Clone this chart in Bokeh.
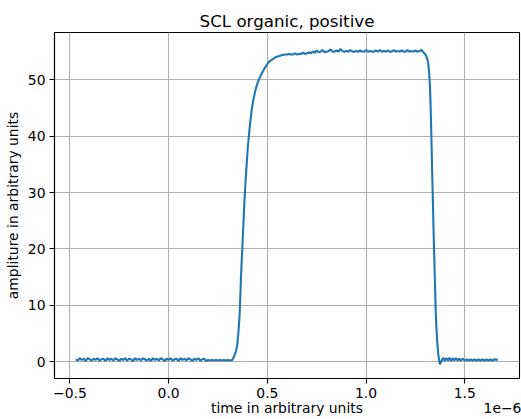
from bokeh.plotting import figure
from bokeh.models import FixedTicker, Range1d, LinearAxis
from bokeh.embed import file_html
from bokeh.resources import INLINE

# time in units of 1e-6, amplitude in arbitrary units
pre_t = [-0.47, -0.46, -0.45, -0.44, -0.43, -0.42, -0.41, -0.40, -0.39, -0.38,
         -0.37, -0.36, -0.35, -0.34, -0.33, -0.32, -0.31, -0.30, -0.29, -0.28,
         -0.27, -0.26, -0.25, -0.24, -0.23, -0.22, -0.21, -0.20, -0.19, -0.18,
         -0.17, -0.16, -0.15, -0.14, -0.13, -0.12, -0.11, -0.10, -0.09, -0.08,
         -0.07, -0.06, -0.05, -0.04, -0.03, -0.02, -0.01, 0.00, 0.01, 0.02,
         0.03, 0.04, 0.05, 0.06, 0.07, 0.08, 0.09, 0.10, 0.11, 0.12,
         0.13, 0.14, 0.15, 0.16, 0.17, 0.18, 0.19, 0.20, 0.21, 0.22,
         0.23, 0.24, 0.25, 0.26, 0.27, 0.28, 0.29, 0.30, 0.31]
pre_a = [0.4, 0.2, 0.6, 0.3, 0.5, 0.1, 0.6, 0.4, 0.2, 0.5,
         0.3, 0.6, 0.2, 0.4, 0.5, 0.1, 0.6, 0.3, 0.5, 0.2,
         0.6, 0.4, 0.1, 0.5, 0.3, 0.6, 0.2, 0.5, 0.4, 0.1,
         0.6, 0.3, 0.5, 0.2, 0.6, 0.4, 0.2, 0.5, 0.1, 0.6,
         0.3, 0.5, 0.2, 0.6, 0.4, 0.1, 0.5, 0.3, 0.6, 0.2,
         0.4, 0.5, 0.1, 0.6, 0.3, 0.5, 0.2, 0.6, 0.4, 0.1,
         0.5, 0.3, 0.6, 0.2, 0.4, 0.5, 0.1, 0.3, 0.2, 0.3,
         0.2, 0.3, 0.2, 0.3, 0.2, 0.3, 0.2, 0.3, 0.2]

rise_t = [0.322, 0.33, 0.338, 0.347, 0.353, 0.359, 0.363, 0.367, 0.375, 0.384,
          0.392, 0.401, 0.408, 0.414, 0.422, 0.431, 0.44, 0.448, 0.46, 0.473,
          0.485, 0.498, 0.511, 0.524, 0.54, 0.557, 0.575, 0.591]
rise_a = [0.3, 0.8, 1.5, 2.8, 5.0, 7.9, 11.5, 15.5, 21.5, 28.6,
          33.3, 38.0, 40.6, 42.7, 45.0, 46.8, 48.2, 49.2, 50.3, 51.2,
          52.0, 52.7, 53.3, 53.6, 54.0, 54.2, 54.4, 54.5]

plateau_t = [0.60, 0.61, 0.62, 0.63, 0.64, 0.65, 0.66, 0.67, 0.68, 0.69,
             0.70, 0.71, 0.72, 0.73, 0.74, 0.75, 0.76, 0.77, 0.78, 0.79,
             0.80, 0.81, 0.82, 0.83, 0.84, 0.85, 0.86, 0.87, 0.88, 0.89,
             0.90, 0.91, 0.92, 0.93, 0.94, 0.95, 0.96, 0.97, 0.98, 0.99,
             1.00, 1.01, 1.02, 1.03, 1.04, 1.05, 1.06, 1.07, 1.08, 1.09,
             1.10, 1.11, 1.12, 1.13, 1.14, 1.15, 1.16, 1.17, 1.18, 1.19,
             1.20, 1.21, 1.22, 1.23, 1.24, 1.25, 1.26, 1.27, 1.28, 1.29]
plateau_a = [54.5, 54.6, 54.5, 54.5, 54.7, 54.5, 54.6, 54.6, 54.8, 54.6,
             54.7, 54.9, 54.7, 55.0, 54.8, 55.2, 54.9, 55.0, 55.3, 54.9,
             55.0, 55.1, 55.4, 55.0, 55.0, 55.2, 55.0, 55.5, 55.1, 55.0,
             55.1, 55.0, 55.3, 55.0, 55.0, 55.1, 55.0, 55.2, 55.0, 55.0,
             55.3, 55.0, 55.1, 55.0, 55.0, 55.2, 55.0, 55.3, 55.0, 55.1,
             55.0, 55.2, 55.0, 55.0, 55.3, 55.0, 55.1, 55.0, 55.2, 55.0,
             55.0, 55.3, 55.0, 55.1, 55.0, 55.2, 55.0, 55.1, 55.3, 54.9]

fall_t = [1.298, 1.305, 1.312, 1.316, 1.32, 1.324, 1.327, 1.331, 1.335, 1.339,
          1.343, 1.348, 1.352, 1.356, 1.36, 1.365, 1.369, 1.374]
fall_a = [54.6, 54.2, 53.4, 52.5, 51.0, 48.5, 45.1, 39.5, 33.3, 27.5,
          21.5, 15.0, 9.6, 6.0, 3.7, 1.5, 0.5, -0.5]

post_t = [1.382, 1.391, 1.399, 1.407, 1.415, 1.423, 1.431, 1.439, 1.447, 1.455,
          1.463, 1.471, 1.48, 1.49, 1.5, 1.51, 1.52, 1.53, 1.54, 1.55,
          1.56, 1.57, 1.58, 1.59, 1.6, 1.61, 1.62, 1.63, 1.64, 1.65, 1.667]
post_a = [0.1, 0.7, 0.1, 0.6, 0.2, 0.7, 0.1, 0.6, 0.2, 0.6,
          0.2, 0.5, 0.2, 0.5, 0.2, 0.4, 0.2, 0.4, 0.2, 0.4,
          0.2, 0.4, 0.2, 0.4, 0.2, 0.4, 0.2, 0.4, 0.2, 0.4, 0.3]

x_ticks = [-0.5, 0.0, 0.5, 1.0, 1.5]
x_tick_labels = ["\u22120.5", "0.0", "0.5", "1.0", "1.5"]
y_ticks = [0, 10, 20, 30, 40, 50]
x_scale_text = "1e\u22126"

t = pre_t + rise_t + plateau_t + fall_t + post_t
a = pre_a + rise_a + plateau_a + fall_a + post_a

FONT = "DejaVu Sans"

p = figure(frame_width=465, frame_height=346, output_backend="svg",
           toolbar_location=None, title="SCL organic, positive",
           x_range=Range1d(-0.578, 1.777), y_range=Range1d(-3.0, 58.4),
           min_border_left=54, min_border_right=2, min_border_top=32,
           min_border_bottom=0, background_fill_color="white",
           border_fill_color="white")

p.line(t, a, line_color="#1f77b4", line_width=2.1)

p.title.align = "center"
p.title.text_font = FONT
p.title.text_font_size = "16.7px"
p.title.text_font_style = "normal"
p.title.text_color = "black"
p.title.standoff = 4

p.outline_line_color = "black"
p.outline_line_width = 1.1

for ax in (p.xaxis[0], p.yaxis[0]):
    ax.major_label_text_font = FONT
    ax.major_label_text_font_size = "13.9px"
    ax.major_label_text_color = "black"
    ax.axis_label_text_font = FONT
    ax.axis_label_text_font_size = "13.9px"
    ax.axis_label_text_font_style = "normal"
    ax.axis_label_text_color = "black"
    ax.major_tick_in = 0
    ax.major_tick_out = 5
    ax.major_tick_line_color = "black"
    ax.major_tick_line_width = 1.1
    ax.minor_tick_line_color = None
    ax.axis_line_color = "black"
    ax.axis_line_width = 1.1

p.xaxis[0].ticker = FixedTicker(ticks=x_ticks)
p.xaxis[0].major_label_overrides = {v: s for v, s in zip(x_ticks, x_tick_labels)}
p.xaxis[0].major_label_standoff = 4

p.yaxis[0].ticker = FixedTicker(ticks=y_ticks)
p.yaxis[0].axis_label = "ampliture in arbitrary units"
p.yaxis[0].major_label_standoff = 4
p.yaxis[0].axis_label_standoff = 4

# second row below the x axis: axis label plus the "1e-6" scale text at the right
scale_pos = 1.691
ax2 = LinearAxis(ticker=FixedTicker(ticks=[scale_pos]),
                 major_label_overrides={scale_pos: x_scale_text},
                 axis_label="time in arbitrary units",
                 axis_line_color=None, major_tick_line_color=None,
                 minor_tick_line_color=None, major_tick_in=0, major_tick_out=0,
                 major_label_standoff=2, axis_label_standoff=-16)
for attr in ("major_label", "axis_label"):
    setattr(ax2, attr + "_text_font", FONT)
    setattr(ax2, attr + "_text_font_size", "13.9px")
    setattr(ax2, attr + "_text_color", "black")
ax2.axis_label_text_font_style = "normal"
p.add_layout(ax2, "below")

p.grid.grid_line_color = "#b0b0b0"
p.grid.grid_line_width = 1.1

open("out.html", "w").write(file_html(p, INLINE))
